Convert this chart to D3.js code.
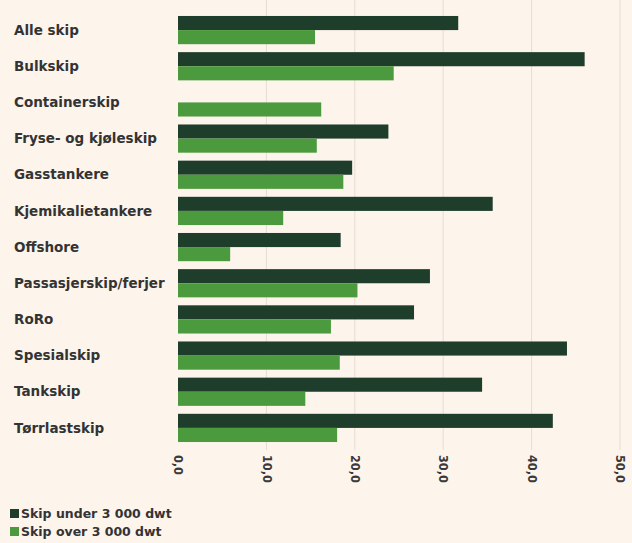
<!DOCTYPE html>
<html>
<head>
<meta charset="utf-8">
<script src="https://cdn.jsdelivr.net/npm/d3@7/dist/d3.min.js"></script>
<style>
  html, body { margin: 0; padding: 0; background: #fdf4ec; }
  svg { display: block; }
</style>
</head>
<body>
<svg id="chart" width="632" height="543"></svg>
<script>
const categories = ["Alle skip", "Bulkskip", "Containerskip", "Fryse- og kjøleskip", "Gasstankere",
  "Kjemikalietankere", "Offshore", "Passasjerskip/ferjer", "RoRo", "Spesialskip", "Tankskip", "Tørrlastskip"];
const seriesNames = ["Skip under 3 000 dwt", "Skip over 3 000 dwt"];
const under3000 = [31.7, 46.0, 0, 23.8, 19.7, 35.6, 18.4, 28.5, 26.7, 44.0, 34.4, 42.4];
const over3000 = [15.5, 24.4, 16.2, 15.7, 18.7, 11.9, 5.9, 20.3, 17.3, 18.3, 14.4, 18.0];
const tickValues = [0, 10, 20, 30, 40, 50];
const tickLabels = ["0,0", "10,0", "20,0", "30,0", "40,0", "50,0"];
const colors = ["#1f3d2b", "#4c9a3e"];

const svg = d3.select("#chart");
const x = d3.scaleLinear().domain([0, 50]).range([178, 620]);
const y = d3.scaleBand().domain(categories).range([12, 446]).paddingInner(0.22).paddingOuter(0.11);
const y1 = d3.scaleBand().domain([0, 1]).range([0, y.bandwidth()]);

// gridlines
svg.append("g").selectAll("line").data(tickValues.slice(1)).join("line")
  .attr("x1", d => x(d)).attr("x2", d => x(d))
  .attr("y1", 0).attr("y2", 450)
  .attr("stroke", "#e6dcd4").attr("stroke-width", 1);

// bars
const data = [under3000, over3000];
const groups = svg.append("g").selectAll("g").data(categories).join("g")
  .attr("transform", d => `translate(0,${y(d)})`);
groups.selectAll("rect").data((d, i) => data.map((s, k) => ({ k, v: s[i] }))).join("rect")
  .attr("x", x(0))
  .attr("y", d => y1(d.k))
  .attr("height", y1.bandwidth())
  .attr("width", d => x(d.v) - x(0))
  .attr("fill", d => colors[d.k]);

// category labels
svg.append("g").selectAll("text").data(categories).join("text")
  .attr("x", 14)
  .attr("y", d => y(d) + y.bandwidth() / 2)
  .attr("dy", "0.35em")
  .attr("font-family", "'DejaVu Sans', sans-serif")
  .attr("font-size", 13.5)
  .attr("font-weight", "bold")
  .attr("fill", "#333")
  .text(d => d);

// x axis tick labels (rotated)
const xAxis = d3.axisBottom(x).tickValues(tickValues).tickFormat((d, i) => tickLabels[i]).tickSize(0);
const ax = svg.append("g").attr("transform", "translate(0,452)").call(xAxis);
ax.select(".domain").remove();
ax.selectAll("text")
  .attr("transform", "rotate(90)")
  .attr("x", 3).attr("y", 0).attr("dy", "0.35em")
  .attr("text-anchor", "start")
  .attr("font-family", "'DejaVu Sans Condensed', 'DejaVu Sans', sans-serif")
  .attr("font-size", 12.5)
  .attr("font-weight", "bold")
  .attr("fill", "#3a3a3a");

// legend
const leg = svg.append("g").selectAll("g").data(seriesNames).join("g")
  .attr("transform", (d, i) => `translate(10,${509 + i * 18})`);
leg.append("rect").attr("width", 9).attr("height", 9).attr("fill", (d, i) => colors[i]);
leg.append("text").attr("x", 11).attr("y", 4.5).attr("dy", "0.36em")
  .attr("font-family", "'DejaVu Sans', sans-serif")
  .attr("font-size", 12.5).attr("font-weight", "bold")
  .attr("fill", "#333")
  .text(d => d);
</script>
</body>
</html>
